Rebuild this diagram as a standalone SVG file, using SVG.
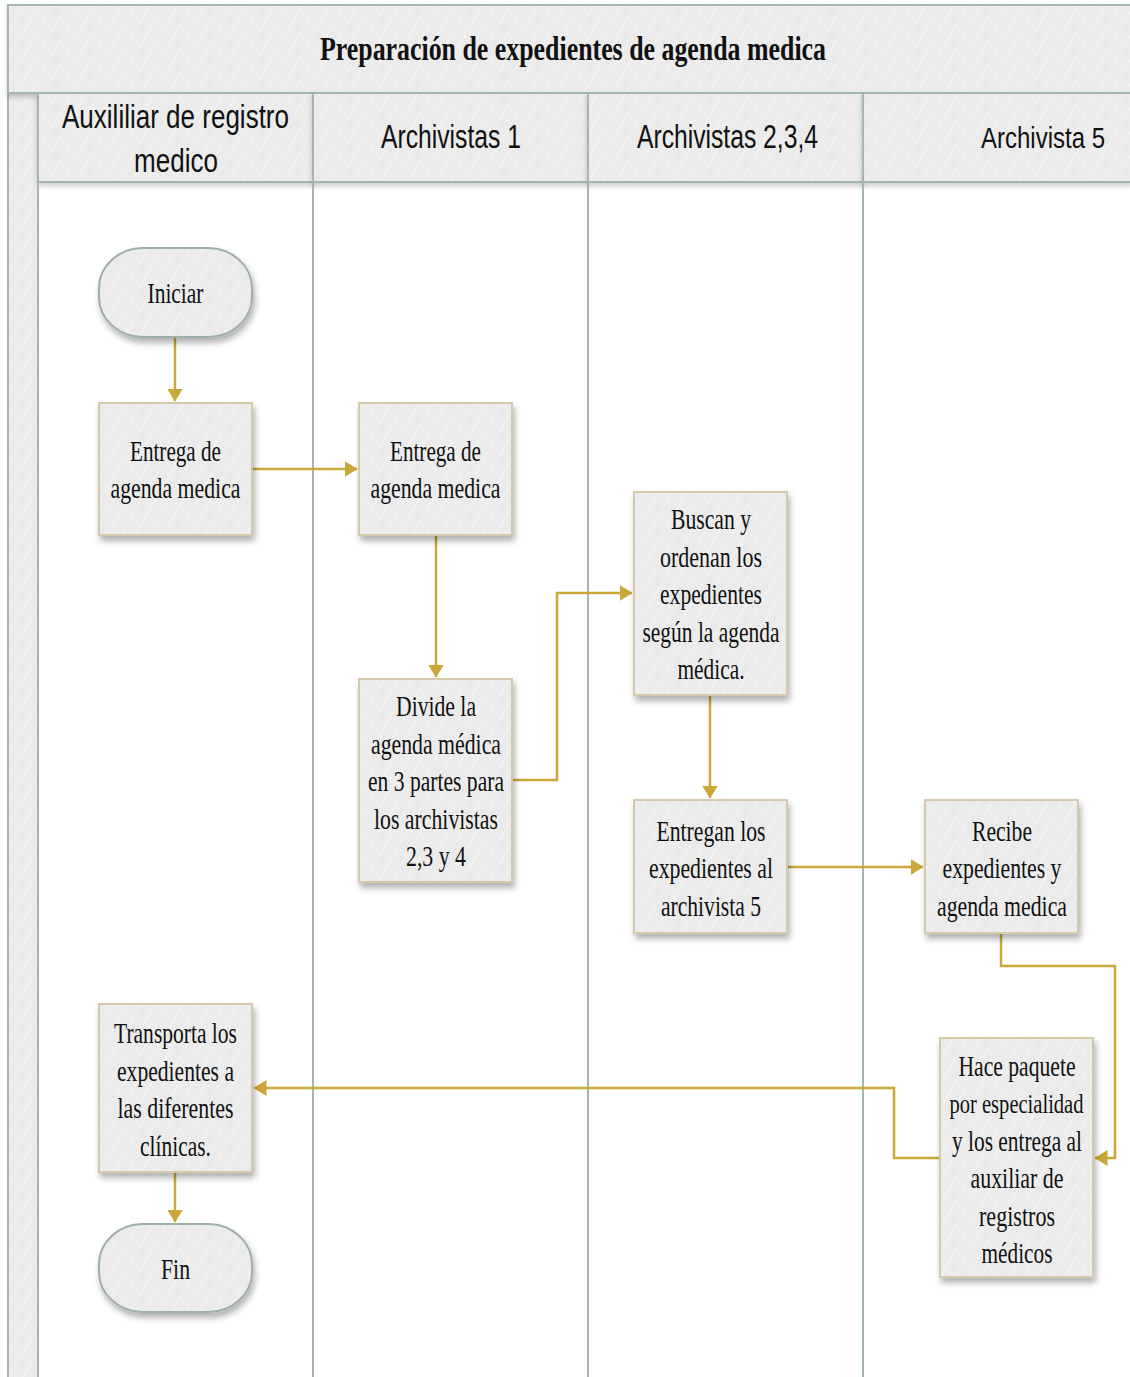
<svg xmlns="http://www.w3.org/2000/svg" width="1130" height="1377" viewBox="0 0 1130 1377">
  <style>
    .lane { fill: url(#hatch); stroke: #A3B7AF; stroke-width: 2; }
    .laneline { stroke: #A3B7AF; stroke-width: 2; fill: none; }
    .box { fill: url(#hatch); stroke: #D4CAA8; stroke-width: 2; filter: url(#shadow); }
    .term { fill: url(#hatch); stroke: #9DB1A9; stroke-width: 2; filter: url(#shadow); }
    .ntxt { font-family: "Liberation Serif", "Times New Roman", serif; font-size: 29px; fill: #111; text-anchor: middle; }
    .htxt { font-family: "Liberation Sans", Arial, sans-serif; font-size: 33px; fill: #111; text-anchor: middle; }
    .ttl { font-family: "Liberation Serif", "Times New Roman", serif; font-size: 34px; font-weight: bold; fill: #111; text-anchor: middle; }
    .conn { fill: none; stroke: #C9A73A; stroke-width: 2.5; }
  </style>
  <defs>
    <pattern id="hatch" patternUnits="userSpaceOnUse" width="12" height="12" patternTransform="rotate(30)">
      <rect width="12" height="12" fill="#EBEBEB"/>
      <line x1="0" y1="0" x2="0" y2="12" stroke="#F3F3F3" stroke-width="2"/>
    </pattern>
    <filter id="shadow" x="-20%" y="-20%" width="140%" height="150%">
      <feDropShadow dx="2" dy="5" stdDeviation="3" flood-color="#000" flood-opacity="0.3"/>
    </filter>
    <filter id="bandshadow" x="-5%" y="-20%" width="110%" height="150%">
      <feDropShadow dx="0" dy="3" stdDeviation="2.5" flood-color="#000" flood-opacity="0.2"/>
    </filter>
    <marker id="arrow" viewBox="0 0 13 16" refX="12.5" refY="8" markerWidth="13" markerHeight="16" markerUnits="userSpaceOnUse" orient="auto">
      <path d="M0,0 L13,8 L0,16 Z" fill="#C9A73A"/>
    </marker>
  </defs>

  <rect width="1130" height="1377" fill="#FFFFFF"/>

  <!-- pool frame, title band, lane headers (right side runs past the canvas) -->
  <g id="pool">
    <rect class="lane" x="8" y="5" width="1124" height="1400"/>
    <rect x="38" y="182" width="1100" height="1220" fill="#FFFFFF"/>
    <rect class="lane" x="8" y="5" width="1124" height="88" filter="url(#bandshadow)"/>
    <text class="ttl" x="573" y="60" textLength="506" lengthAdjust="spacingAndGlyphs">Preparación de expedientes de agenda medica</text>
    <rect class="lane" x="38" y="93" width="275" height="89" filter="url(#bandshadow)"/>
    <rect class="lane" x="313" y="93" width="275" height="89" filter="url(#bandshadow)"/>
    <rect class="lane" x="588" y="93" width="275" height="89" filter="url(#bandshadow)"/>
    <rect class="lane" x="863" y="93" width="269" height="89" filter="url(#bandshadow)"/>
    <line class="laneline" x1="38" y1="93" x2="38" y2="1377"/>
    <line class="laneline" x1="313" y1="182" x2="313" y2="1377"/>
    <line class="laneline" x1="588" y1="182" x2="588" y2="1377"/>
    <line class="laneline" x1="863" y1="182" x2="863" y2="1377"/>
    <text class="htxt" x="175.5" y="128" textLength="227" lengthAdjust="spacingAndGlyphs">Auxililiar de registro</text>
    <text class="htxt" x="176" y="172" textLength="84" lengthAdjust="spacingAndGlyphs">medico</text>
    <text class="htxt" x="451" y="148" textLength="140" lengthAdjust="spacingAndGlyphs">Archivistas 1</text>
    <text class="htxt" x="727.5" y="148" textLength="181" lengthAdjust="spacingAndGlyphs">Archivistas 2,3,4</text>
    <text class="htxt" x="1043" y="148" style="font-size:30px" textLength="124" lengthAdjust="spacingAndGlyphs">Archivista 5</text>
  </g>

  <!-- connectors -->
  <g id="connectors">
    <path class="conn" d="M175,337 V401" marker-end="url(#arrow)"/>
    <path class="conn" d="M252,469 H357" marker-end="url(#arrow)"/>
    <path class="conn" d="M436,535 V677" marker-end="url(#arrow)"/>
    <path class="conn" d="M512,780 H557 V593 H632" marker-end="url(#arrow)"/>
    <path class="conn" d="M710,695 V798" marker-end="url(#arrow)"/>
    <path class="conn" d="M787,867 H923" marker-end="url(#arrow)"/>
    <path class="conn" d="M1001,933 V966 H1115 V1158 H1095" marker-end="url(#arrow)"/>
    <path class="conn" d="M940,1158 H894 V1088 H254" marker-end="url(#arrow)"/>
    <path class="conn" d="M175,1172 V1222" marker-end="url(#arrow)"/>
  </g>

  <!-- nodes -->
  <g id="n-iniciar">
    <rect class="term" x="99" y="248" width="153" height="89" rx="44" ry="40"/>
    <text class="ntxt" x="175.5" y="303" textLength="56" lengthAdjust="spacingAndGlyphs">Iniciar</text>
  </g>

  <g id="n-entrega-aux">
    <rect class="box" x="99" y="403" width="153" height="132"/>
    <text class="ntxt" x="175.5" y="461" textLength="91" lengthAdjust="spacingAndGlyphs">Entrega de</text>
    <text class="ntxt" x="175.5" y="498" textLength="130" lengthAdjust="spacingAndGlyphs">agenda medica</text>
  </g>

  <g id="n-entrega-arch1">
    <rect class="box" x="359" y="403" width="153" height="132"/>
    <text class="ntxt" x="435.5" y="461" textLength="91" lengthAdjust="spacingAndGlyphs">Entrega de</text>
    <text class="ntxt" x="435.5" y="498" textLength="130" lengthAdjust="spacingAndGlyphs">agenda medica</text>
  </g>

  <g id="n-divide">
    <rect class="box" x="359" y="679" width="153" height="203"/>
    <text class="ntxt" x="436" y="716" textLength="80" lengthAdjust="spacingAndGlyphs">Divide la</text>
    <text class="ntxt" x="436" y="754" textLength="130" lengthAdjust="spacingAndGlyphs">agenda médica</text>
    <text class="ntxt" x="436" y="791" textLength="136" lengthAdjust="spacingAndGlyphs">en 3 partes para</text>
    <text class="ntxt" x="436" y="829" textLength="124" lengthAdjust="spacingAndGlyphs">los archivistas</text>
    <text class="ntxt" x="436" y="866" textLength="60" lengthAdjust="spacingAndGlyphs">2,3 y 4</text>
  </g>

  <g id="n-buscan">
    <rect class="box" x="634" y="492" width="153" height="203"/>
    <text class="ntxt" x="711" y="529" textLength="80" lengthAdjust="spacingAndGlyphs">Buscan y</text>
    <text class="ntxt" x="711" y="567" textLength="102" lengthAdjust="spacingAndGlyphs">ordenan los</text>
    <text class="ntxt" x="711" y="604" textLength="102" lengthAdjust="spacingAndGlyphs">expedientes</text>
    <text class="ntxt" x="711" y="642" textLength="137" lengthAdjust="spacingAndGlyphs">según la agenda</text>
    <text class="ntxt" x="711" y="679" textLength="67" lengthAdjust="spacingAndGlyphs">médica.</text>
  </g>

  <g id="n-entregan">
    <rect class="box" x="634" y="800" width="153" height="133"/>
    <text class="ntxt" x="711" y="841" textLength="109" lengthAdjust="spacingAndGlyphs">Entregan los</text>
    <text class="ntxt" x="711" y="878" textLength="124" lengthAdjust="spacingAndGlyphs">expedientes al</text>
    <text class="ntxt" x="711" y="916" textLength="100" lengthAdjust="spacingAndGlyphs">archivista 5</text>
  </g>

  <g id="n-recibe">
    <rect class="box" x="925" y="800" width="153" height="133"/>
    <text class="ntxt" x="1002" y="841" textLength="60" lengthAdjust="spacingAndGlyphs">Recibe</text>
    <text class="ntxt" x="1002" y="878" textLength="119" lengthAdjust="spacingAndGlyphs">expedientes y</text>
    <text class="ntxt" x="1002" y="916" textLength="130" lengthAdjust="spacingAndGlyphs">agenda medica</text>
  </g>

  <g id="n-hace-paquete">
    <rect class="box" x="940" y="1038" width="153" height="239"/>
    <text class="ntxt" x="1017" y="1076" textLength="117" lengthAdjust="spacingAndGlyphs">Hace paquete</text>
    <text class="ntxt" x="1016.5" y="1113" style="font-size:27px" textLength="134" lengthAdjust="spacingAndGlyphs">por especialidad</text>
    <text class="ntxt" x="1017" y="1151" textLength="130" lengthAdjust="spacingAndGlyphs">y los entrega al</text>
    <text class="ntxt" x="1017" y="1188" textLength="93" lengthAdjust="spacingAndGlyphs">auxiliar de</text>
    <text class="ntxt" x="1017" y="1226" textLength="76" lengthAdjust="spacingAndGlyphs">registros</text>
    <text class="ntxt" x="1017" y="1263" textLength="71" lengthAdjust="spacingAndGlyphs">médicos</text>
  </g>

  <g id="n-transporta">
    <rect class="box" x="99" y="1004" width="153" height="168"/>
    <text class="ntxt" x="175.5" y="1043" textLength="123" lengthAdjust="spacingAndGlyphs">Transporta los</text>
    <text class="ntxt" x="175.5" y="1081" textLength="117" lengthAdjust="spacingAndGlyphs">expedientes a</text>
    <text class="ntxt" x="175.5" y="1118" textLength="116" lengthAdjust="spacingAndGlyphs">las diferentes</text>
    <text class="ntxt" x="175.5" y="1156" textLength="71" lengthAdjust="spacingAndGlyphs">clínicas.</text>
  </g>

  <g id="n-fin">
    <rect class="term" x="99" y="1224" width="153" height="88" rx="44" ry="40"/>
    <text class="ntxt" x="175.5" y="1279" textLength="29" lengthAdjust="spacingAndGlyphs">Fin</text>
  </g>
</svg>
